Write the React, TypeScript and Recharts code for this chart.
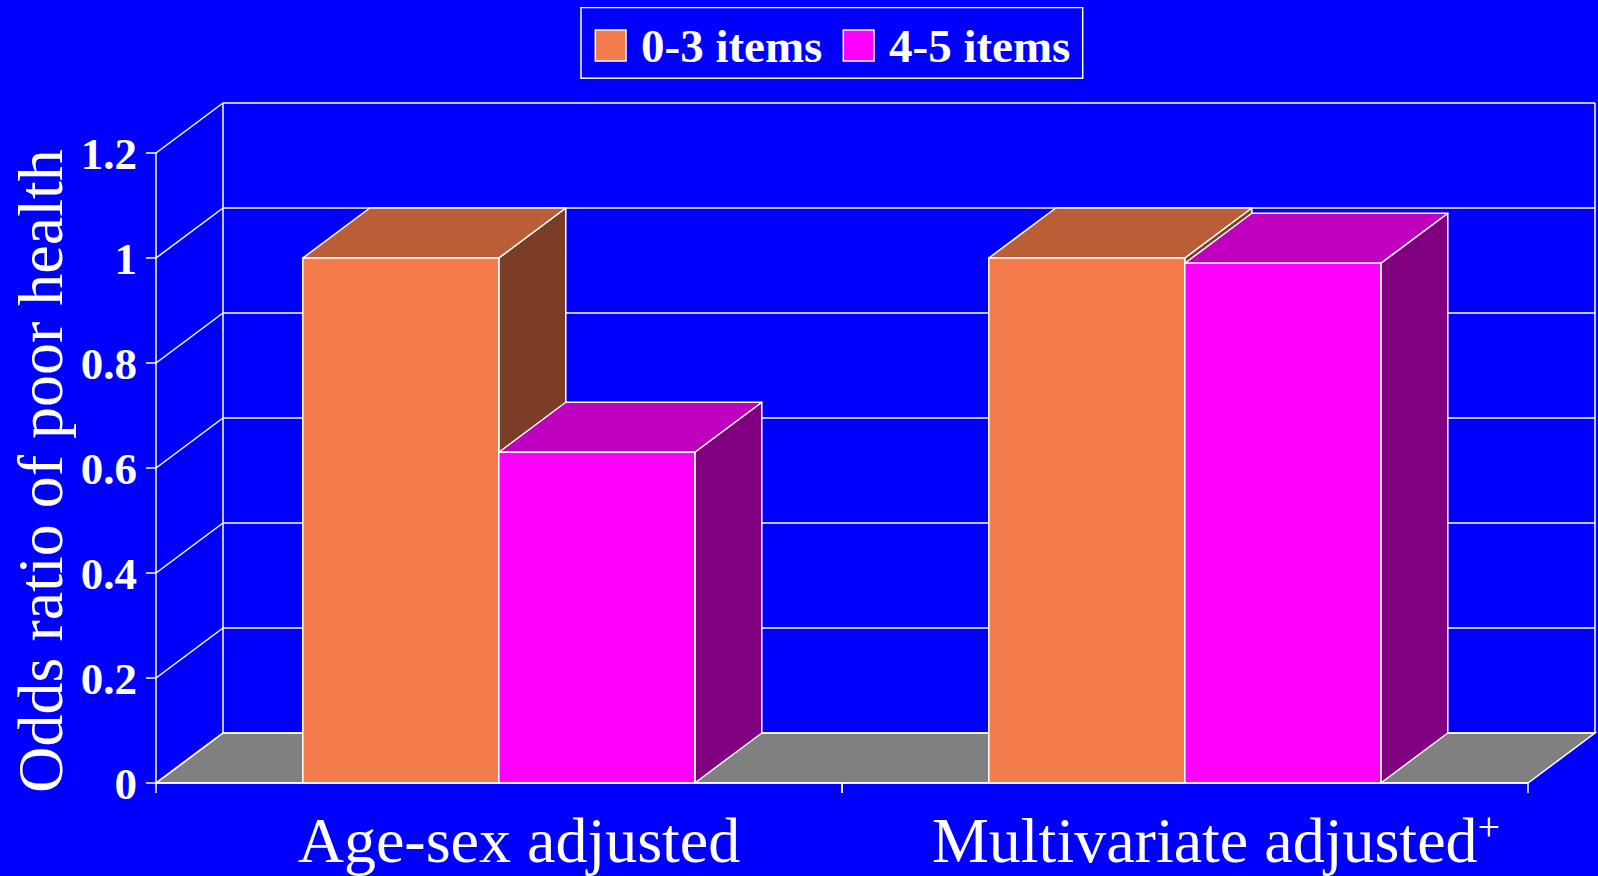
import React from "react";
import { BarChart, Bar, XAxis, YAxis, CartesianGrid, Legend } from "recharts";

// ---- data ----
const categories = ["Age-sex adjusted", "Multivariate adjusted+"];
const seriesNames = ["0-3 items", "4-5 items"];
const items03 = [1.0, 1.0];
const items45 = [0.63, 0.99];
const yTicks = [0, 0.2, 0.4, 0.6, 0.8, 1, 1.2];
const yLabel = "Odds ratio of poor health";

const data = categories.map((name, i) => ({ name, a: items03[i], b: items45[i] }));

// ---- style ----
const W = 1598;
const H = 876;
const DX = 67;
const DY = 50;
const BG = "#0000FF";
const LINE = "#FFFFFF";
const SW = 1.5;
const FONT = "'Times New Roman', 'Liberation Serif', serif";

const COLORS = [
  { front: "#F47C4C", top: "#BA5E38", side: "#7B3D25" },
  { front: "#FF00FF", top: "#BF00BF", side: "#800080" },
];

function make3DBar(c: { front: string; top: string; side: string }) {
  return (props: any) => {
    const { x, y, width: w, height: h } = props;
    if (x == null || !isFinite(x) || !isFinite(y)) return <g />;
    return (
      <g>
        <polygon
          points={`${x + w},${y} ${x + w + DX},${y - DY} ${x + w + DX},${y + h - DY} ${x + w},${y + h}`}
          fill={c.side}
          stroke={LINE}
          strokeWidth={SW}
          strokeLinejoin="round"
        />
        <polygon
          points={`${x},${y} ${x + DX},${y - DY} ${x + w + DX},${y - DY} ${x + w},${y}`}
          fill={c.top}
          stroke={LINE}
          strokeWidth={SW}
          strokeLinejoin="round"
        />
        <rect x={x} y={y} width={w} height={h} fill={c.front} stroke={LINE} strokeWidth={SW} />
      </g>
    );
  };
}

function gridLine(props: any) {
  const { x1, y1, x2, y, height, index } = props;
  const bottom = (y ?? 0) + (height ?? 0);
  const top = y ?? 0;
  const isBottom = Math.abs(y1 - bottom) < 1;
  const isTop = Math.abs(y1 - top) < 1;
  return (
    <g key={`grid-${index}`}>
      {isBottom && (
        <polygon
          points={`${x1},${y1} ${x1 + DX},${y1 - DY} ${x2 + DX},${y1 - DY} ${x2},${y1}`}
          fill="#808080"
          stroke={LINE}
          strokeWidth={SW}
        />
      )}
      <line x1={x1} y1={y1} x2={x1 + DX} y2={y1 - DY} stroke={LINE} strokeWidth={SW} />
      <line x1={x1 + DX} y1={y1 - DY} x2={x2 + DX} y2={y1 - DY} stroke={LINE} strokeWidth={SW} />
      {isTop && (
        <g>
          <line x1={x1 + DX} y1={y1 - DY} x2={x1 + DX} y2={bottom - DY} stroke={LINE} strokeWidth={SW} />
          <line x1={x2 + DX} y1={y1 - DY} x2={x2 + DX} y2={bottom - DY} stroke={LINE} strokeWidth={SW} />
        </g>
      )}
    </g>
  );
}

function XTick(props: any) {
  const { x, y, payload } = props;
  const off = payload && typeof payload.offset === "number" && payload.offset > 0 ? payload.offset : 343;
  const label: string = String(payload?.value ?? "");
  const sup = label.endsWith("+");
  const main = sup ? label.slice(0, -1) : label;
  return (
    <g>
      <line x1={x - off} y1={y} x2={x - off} y2={y + 10} stroke={LINE} strokeWidth={SW} />
      <line x1={x + off} y1={y} x2={x + off} y2={y + 10} stroke={LINE} strokeWidth={SW} />
      <text
        x={x + 20 + (sup ? 11 : 0)}
        y={y + 79}
        textAnchor="middle"
        fill="#FFFFFF"
        fontFamily={FONT}
        fontSize={64}
      >
        {main}
        {sup && (
          <tspan fontSize={40} dy={-22}>
            +
          </tspan>
        )}
      </text>
    </g>
  );
}

function YLabel(props: any) {
  const vb = props.viewBox || { x: 0, y: 153, width: 156, height: 630 };
  const cx = vb.x + 61.5;
  const cy = vb.y + vb.height / 2 + 3;
  return (
    <text
      x={cx}
      y={cy}
      transform={`rotate(-90, ${cx}, ${cy})`}
      textAnchor="middle"
      fill="#FFFFFF"
      fontFamily={FONT}
      fontSize={64}
    >
      {yLabel}
    </text>
  );
}

function LegendContent(props: any) {
  const payload = props.payload || [];
  const pitch = 248;
  return (
    <svg width={505} height={74} style={{ display: "block" }}>
      <rect x={1} y={0.5} width={501.7} height={70.7} fill="none" stroke={LINE} strokeWidth={SW} />
      {payload.map((p: any, i: number) => (
        <g key={i} transform={`translate(${15.3 + i * pitch}, 0)`}>
          <rect x={0} y={23} width={30.7} height={31} fill={p.color} stroke={LINE} strokeWidth={SW} />
          <text
            x={45.7}
            y={55.3}
            fill="#FFFFFF"
            fontFamily={FONT}
            fontSize={47}
            fontWeight="bold"
          >
            {p.value}
          </text>
        </g>
      ))}
    </svg>
  );
}

export default function App() {
  return (
    <div
      style={{
        position: "absolute",
        left: 0,
        top: 0,
        width: W,
        height: H,
        background: BG,
        overflow: "hidden",
      }}
    >
      <BarChart
        width={W}
        height={H}
        data={data}
        margin={{ top: 153, right: 70, bottom: 0, left: 0 }}
        barCategoryGap="21.4%"
        barGap={0}
      >
        <CartesianGrid horizontal={gridLine as any} vertical={false} />
        <XAxis
          dataKey="name"
          height={93}
          axisLine={{ stroke: LINE, strokeWidth: SW }}
          tickLine={false}
          tickSize={0}
          tickMargin={0}
          interval={0}
          tick={(p: any) => <XTick {...p} />}
        />
        <YAxis
          type="number"
          domain={[0, 1.2]}
          ticks={yTicks}
          interval={0}
          width={156}
          allowDataOverflow
          axisLine={{ stroke: LINE, strokeWidth: SW }}
          tickLine={{ stroke: LINE, strokeWidth: SW }}
          tickSize={10}
          tickMargin={9}
          tickFormatter={(v: number) => String(v)}
          tick={{ fill: "#FFFFFF", fontSize: 45, fontWeight: "bold", fontFamily: FONT }}
          label={{ content: (p: any) => <YLabel {...p} /> }}
        />
        <Legend
          verticalAlign="middle"
          align="center"
          layout="horizontal"
          wrapperStyle={{ top: 7, left: 580, width: 505, height: 74 }}
          content={(p: any) => <LegendContent {...p} />}
        />
        <Bar
          dataKey="a"
          name={seriesNames[0]}
          fill={COLORS[0].front}
          shape={make3DBar(COLORS[0])}
          isAnimationActive={false}
        />
        <Bar
          dataKey="b"
          name={seriesNames[1]}
          fill={COLORS[1].front}
          shape={make3DBar(COLORS[1])}
          isAnimationActive={false}
        />
      </BarChart>
    </div>
  );
}
